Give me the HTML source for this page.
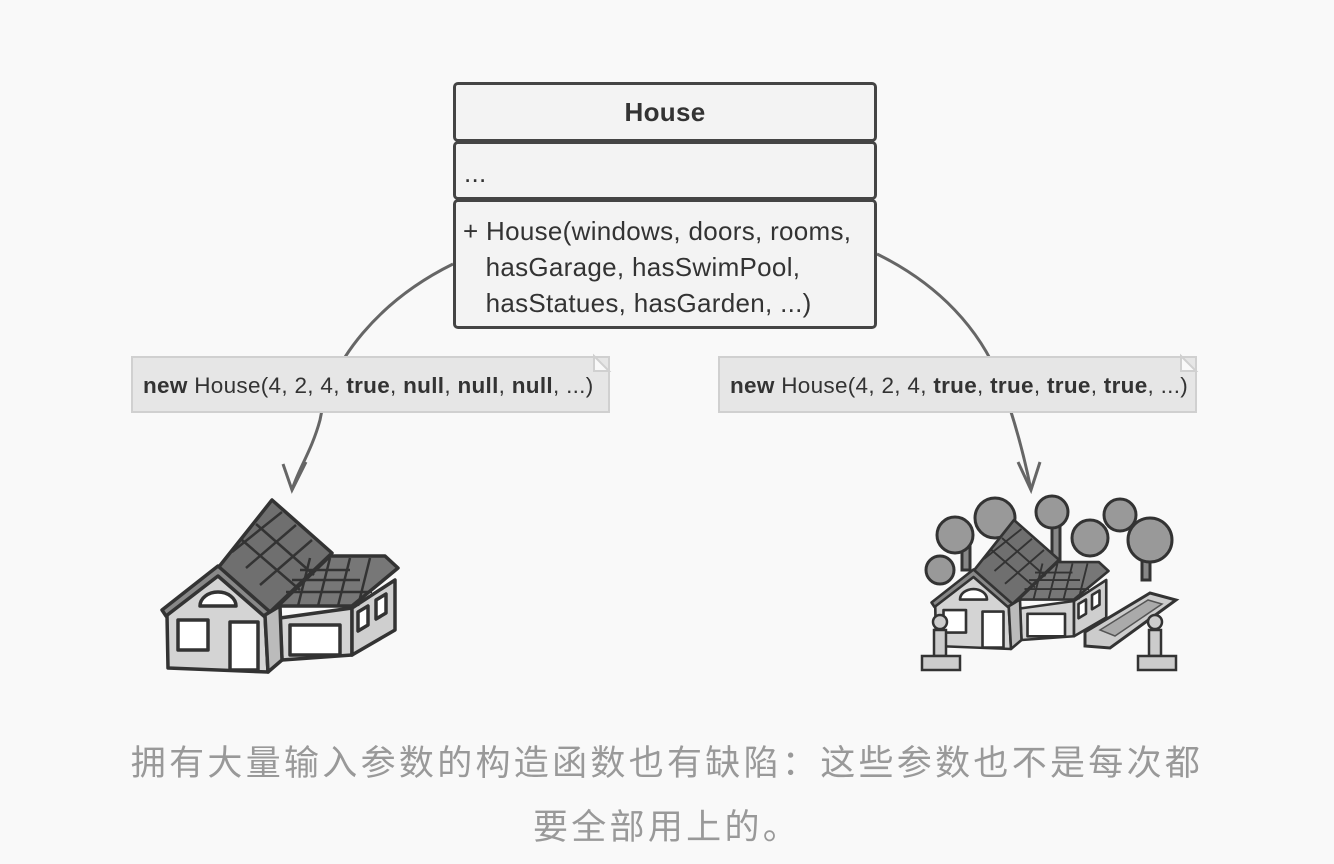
<!DOCTYPE html>
<html><head><meta charset="utf-8"><style>
html,body{margin:0;padding:0;background:#f9f9f9;}
body{width:1334px;height:864px;position:relative;overflow:hidden;font-family:"Liberation Sans","Noto Sans CJK SC",sans-serif;}
.box{position:absolute;left:453px;width:424px;border:3px solid #444;border-radius:5px;background:#f3f3f3;box-sizing:border-box;color:#333;}
.t{position:absolute;font-size:26px;color:#333;white-space:nowrap;letter-spacing:0.3px;}
.note{position:absolute;top:356px;height:57px;background:#e6e6e6;border:2px solid #d0d0d0;box-sizing:border-box;font-size:22.5px;color:#333;padding-left:10px;line-height:56px;white-space:nowrap;letter-spacing:0.3px;}
.cap{position:absolute;left:0;width:1334px;text-align:center;font-size:35px;letter-spacing:3.3px;color:#999;font-family:"Liberation Sans","Noto Sans CJK SC",sans-serif;}
</style></head><body>
<svg width="1334" height="864" style="position:absolute;left:0;top:0">
<g fill="none" stroke="#666" stroke-width="3">
<path d="M453,264 C380,300 330,360 320,420 C312,450 298,470 292,490"/>
<path d="M306,462 L292,490 L283,464"/>
<path d="M877,254 C940,285 980,330 1000,380 C1015,420 1025,460 1031,490"/>
<path d="M1018,462 L1031,490 L1040,462"/>
</g>
<defs>
<g id="house" stroke="#333" stroke-width="3.5" stroke-linejoin="round">
<polygon points="280,618 352,608 352,655 282,660" fill="#d4d4d4"/>
<polygon points="352,608 395,580 395,630 352,655" fill="#cfcfcf"/>
<polygon points="278,606 330,556 385,556 398,568 352,606" fill="#777"/>
<polygon points="218,568 272,500 332,553 270,612" fill="#6f6f6f"/>
<polygon points="167,615 218,572 265,615 268,672 168,668" fill="#d4d4d4"/>
<polygon points="162,610 218,566 270,612 265,617 218,576 166,616" fill="#888"/>
<polygon points="265,615 280,606 282,660 268,672" fill="#bbb"/>
<rect x="178" y="620" width="30" height="30" fill="#fff"/>
<rect x="230" y="622" width="28" height="48" fill="#fff"/>
<rect x="290" y="625" width="50" height="30" fill="#fff"/>
<path d="M200,606 a18,14 0 0 1 36,0 z" fill="#fff"/>
<polygon points="358,612 368,606 368,625 358,631" fill="#fff"/>
<polygon points="376,600 386,594 386,613 376,619" fill="#fff"/>
</g>
<g id="grid" stroke="#333" stroke-width="2.5" fill="none">
<path d="M232,552 L282,512 M246,568 L296,525 M260,585 L312,540 M300,570 L350,570 M292,580 L360,580 M286,592 L372,592"/>
<path d="M242,540 L300,590 M256,524 L314,575 M310,558 L298,606 M330,558 L318,606 M350,558 L338,606 M370,558 L358,606"/>
</g>
</defs>
<use href="#house"/><use href="#grid"/>
<g fill="#999" stroke="#333" stroke-width="3">
<rect x="962" y="540" width="8" height="30" fill="#888"/><rect x="1052" y="520" width="8" height="40" fill="#888"/><rect x="1142" y="540" width="8" height="40" fill="#888"/>
<circle cx="955" cy="535" r="18"/><circle cx="995" cy="518" r="20"/><circle cx="1052" cy="512" r="16"/><circle cx="1090" cy="538" r="18"/><circle cx="1120" cy="515" r="16"/><circle cx="1150" cy="540" r="22"/><circle cx="940" cy="570" r="14"/>
</g>
<g transform="translate(810,145) scale(0.75)"><use href="#house"/><use href="#grid"/></g>
<polygon points="1085,632 1150,593 1176,600 1110,648 1085,646" fill="#ccc" stroke="#333" stroke-width="3"/>
<polygon points="1100,630 1148,600 1162,604 1115,636" fill="#aaa" stroke="#555" stroke-width="1.5"/>
<g fill="#ccc" stroke="#333" stroke-width="2.5">
<circle cx="940" cy="622" r="7"/><rect x="934" y="630" width="12" height="26"/><rect x="922" y="656" width="38" height="14"/>
<circle cx="1155" cy="622" r="7"/><rect x="1149" y="630" width="12" height="26"/><rect x="1138" y="656" width="38" height="14"/>
</g>
</svg>
<div class="box" style="top:82px;height:60px;"><div class="t" style="left:0;width:418px;text-align:center;top:12px;font-weight:bold;">House</div></div>
<div class="box" style="top:141px;height:59px;"><div class="t" style="left:8px;top:14px;">...</div></div>
<div class="box" style="top:199px;height:130px;">
<div class="t" style="left:7px;top:11px;line-height:36px;">+ House(windows, doors, rooms,<br>&nbsp;&nbsp; hasGarage, hasSwimPool,<br>&nbsp;&nbsp; hasStatues, hasGarden, ...)</div></div>
<div class="note" style="left:131px;width:479px;"><b>new</b> House(4, 2, 4, <b>true</b>, <b>null</b>, <b>null</b>, <b>null</b>, ...)</div>
<div class="note" style="left:718px;width:479px;"><b>new</b> House(4, 2, 4, <b>true</b>, <b>true</b>, <b>true</b>, <b>true</b>, ...)</div>
<svg width="1334" height="864" style="position:absolute;left:0;top:0">
<polygon points="594,356 609,371 594,371" fill="#f9f9f9" stroke="#d0d0d0" stroke-width="2"/>
<polygon points="1181,356 1196,371 1181,371" fill="#f9f9f9" stroke="#d0d0d0" stroke-width="2"/>
</svg>
<div class="cap" style="top:735px;">拥有大量输入参数的构造函数也有缺陷：这些参数也不是每次都</div>
<div class="cap" style="top:799px;">要全部用上的。</div>
</body></html>
